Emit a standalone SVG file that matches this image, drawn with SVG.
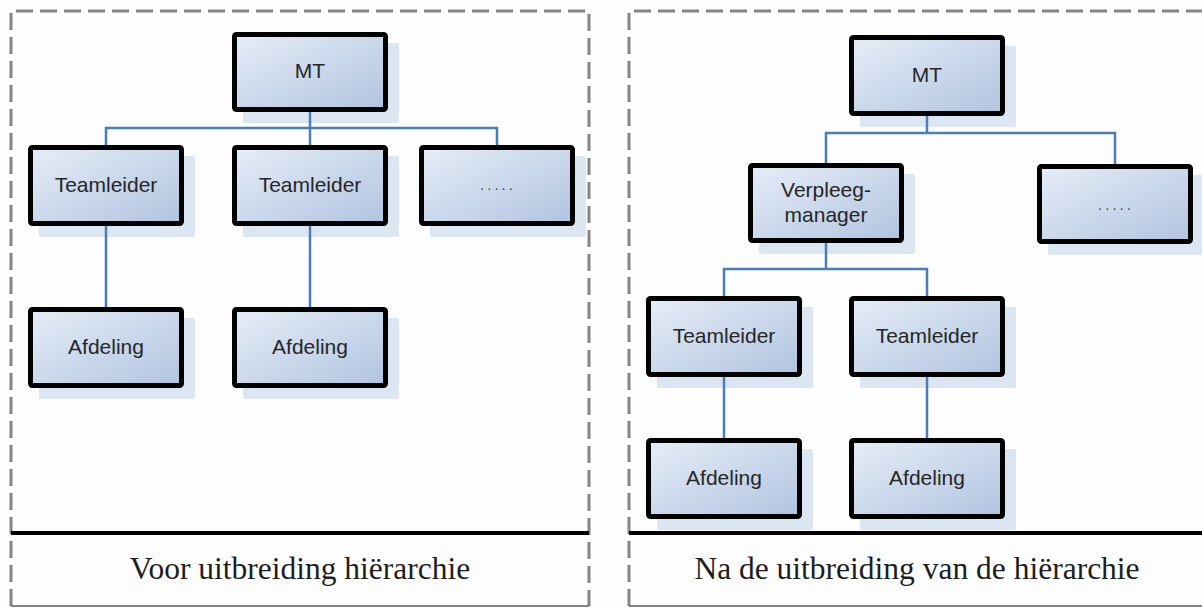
<svg xmlns="http://www.w3.org/2000/svg" width="1202" height="608" viewBox="0 0 1202 608">
  <defs>
    <linearGradient id="fill" x1="0" y1="0" x2="1" y2="1">
      <stop offset="0" stop-color="#e6edf7"/>
      <stop offset="1" stop-color="#b0c4e0"/>
    </linearGradient>
    <style>
      .border { fill: none; stroke: #858585; stroke-width: 3; stroke-dasharray: 17 7; }
      .base { fill: none; stroke: #5a5a5a; stroke-width: 1.5; }
      .sep { fill: none; stroke: #000; stroke-width: 4; }
      .shadow { fill: #dce5f2; }
      .box { fill: url(#fill); stroke: #000; stroke-width: 5; }
      .lbl { font-family: "Liberation Sans", Arial, sans-serif; font-size: 21px; fill: #262626; text-anchor: middle; }
      .dots { font-family: "Liberation Sans", Arial, sans-serif; font-size: 15px; fill: #444; text-anchor: middle; letter-spacing: 3px; }
      .title { font-family: "Liberation Serif", "Times New Roman", serif; font-size: 31.5px; fill: #1e1e1e; text-anchor: middle; }
      .conn { fill: none; stroke: #4a7ebb; stroke-width: 2.5; }
    </style>
  </defs>
  <rect width="1202" height="608" fill="#fdfdfd"/>

  <g id="panel-left">
    <path class="border" d="M11,606 V11 H589 V606"/>
    <path class="base" d="M11,606 H589"/>
    <path class="sep" d="M11,533 H589"/>
    <text class="title" x="300" y="579">Voor uitbreiding hiërarchie</text>
  </g>
  <g id="panel-right">
    <path class="border" d="M629,606 V11 H1210"/>
    <path class="base" d="M629,606 H1202"/>
    <path class="sep" d="M629,533 H1202"/>
    <text class="title" x="917" y="579">Na de uitbreiding van de hiërarchie</text>
  </g>

  <!-- Left nodes -->
  <g id="l-mt">
    <rect class="shadow" x="243" y="43" width="156" height="80" rx="2"/>
    <rect class="box" x="234.5" y="34.5" width="151" height="75" rx="2"/>
    <text class="lbl" x="310" y="78">MT</text>
  </g>
  <g id="l-teamleider-1">
    <rect class="shadow" x="39" y="156" width="156" height="81" rx="2"/>
    <rect class="box" x="30.5" y="147.5" width="151" height="76" rx="2"/>
    <text class="lbl" x="106" y="192">Teamleider</text>
  </g>
  <g id="l-teamleider-2">
    <rect class="shadow" x="243" y="156" width="156" height="81" rx="2"/>
    <rect class="box" x="234.5" y="147.5" width="151" height="76" rx="2"/>
    <text class="lbl" x="310" y="192">Teamleider</text>
  </g>
  <g id="l-more">
    <rect class="shadow" x="430" y="156" width="156" height="81" rx="2"/>
    <rect class="box" x="421.5" y="147.5" width="151" height="76" rx="2"/>
    <text class="dots" x="498" y="190">.....</text>
  </g>
  <g id="l-afdeling-1">
    <rect class="shadow" x="39" y="318" width="156" height="81" rx="2"/>
    <rect class="box" x="30.5" y="309.5" width="151" height="76" rx="2"/>
    <text class="lbl" x="106" y="354">Afdeling</text>
  </g>
  <g id="l-afdeling-2">
    <rect class="shadow" x="243" y="318" width="156" height="81" rx="2"/>
    <rect class="box" x="234.5" y="309.5" width="151" height="76" rx="2"/>
    <text class="lbl" x="310" y="354">Afdeling</text>
  </g>

  <!-- Right nodes -->
  <g id="r-mt">
    <rect class="shadow" x="860" y="46" width="156" height="81" rx="2"/>
    <rect class="box" x="851.5" y="37.5" width="151" height="76" rx="2"/>
    <text class="lbl" x="927" y="82">MT</text>
  </g>
  <g id="r-verpleegmanager">
    <rect class="shadow" x="759" y="174" width="156" height="80" rx="2"/>
    <rect class="box" x="750.5" y="165.5" width="151" height="75" rx="2"/>
    <text class="lbl" x="826" y="197">Verpleeg-</text>
    <text class="lbl" x="826" y="222">manager</text>
  </g>
  <g id="r-more">
    <rect class="shadow" x="1048" y="175" width="156" height="80" rx="2"/>
    <rect class="box" x="1039.5" y="166.5" width="151" height="75" rx="2"/>
    <text class="dots" x="1116" y="210">.....</text>
  </g>
  <g id="r-teamleider-1">
    <rect class="shadow" x="657" y="307" width="156" height="81" rx="2"/>
    <rect class="box" x="648.5" y="298.5" width="151" height="76" rx="2"/>
    <text class="lbl" x="724" y="343">Teamleider</text>
  </g>
  <g id="r-teamleider-2">
    <rect class="shadow" x="860" y="307" width="156" height="81" rx="2"/>
    <rect class="box" x="851.5" y="298.5" width="151" height="76" rx="2"/>
    <text class="lbl" x="927" y="343">Teamleider</text>
  </g>
  <g id="r-afdeling-1">
    <rect class="shadow" x="657" y="449" width="156" height="81" rx="2"/>
    <rect class="box" x="648.5" y="440.5" width="151" height="76" rx="2"/>
    <text class="lbl" x="724" y="485">Afdeling</text>
  </g>
  <g id="r-afdeling-2">
    <rect class="shadow" x="860" y="449" width="156" height="81" rx="2"/>
    <rect class="box" x="851.5" y="440.5" width="151" height="76" rx="2"/>
    <text class="lbl" x="927" y="485">Afdeling</text>
  </g>

  <g id="connectors">
    <path class="conn" d="M310,112 V128"/>
    <path class="conn" d="M106,145 V128 H497 V145"/>
    <path class="conn" d="M310,128 V145"/>
    <path class="conn" d="M106,226 V307"/>
    <path class="conn" d="M310,226 V307"/>
    <path class="conn" d="M927,116 V133"/>
    <path class="conn" d="M826,163 V133 H1115 V164"/>
    <path class="conn" d="M826,243 V269"/>
    <path class="conn" d="M724,296 V269 H927 V296"/>
    <path class="conn" d="M724,377 V438"/>
    <path class="conn" d="M927,377 V438"/>
  </g>
</svg>
